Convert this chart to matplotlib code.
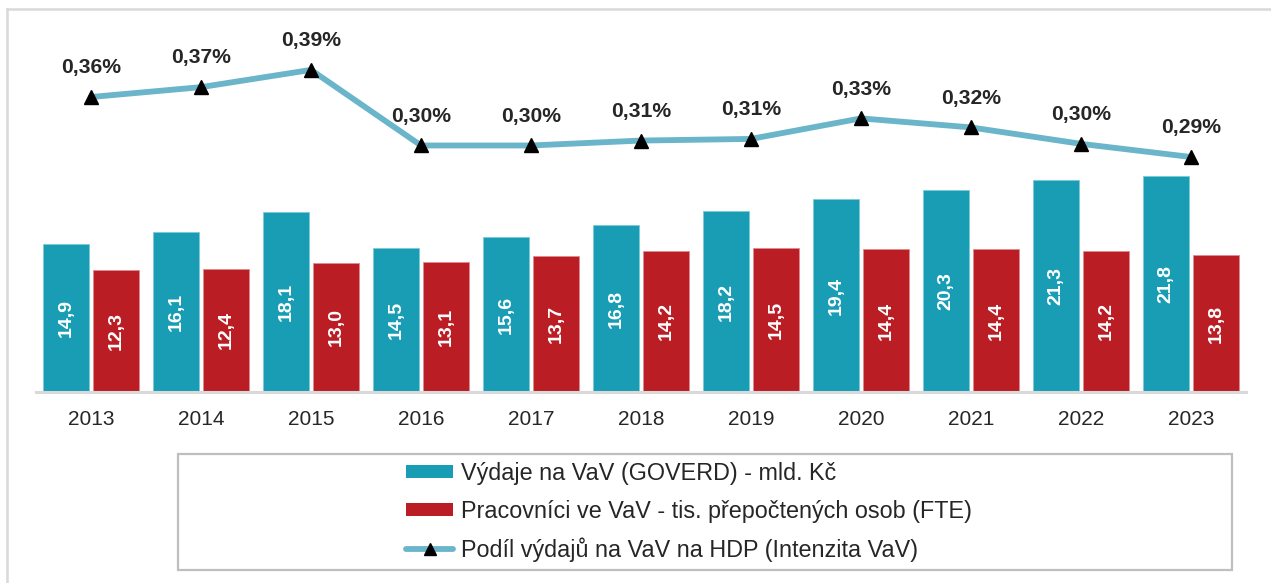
import matplotlib
matplotlib.use("Agg")
import matplotlib.pyplot as plt
from matplotlib.lines import Line2D
from matplotlib.patches import Rectangle, Patch

plt.rcParams['font.family'] = ['Liberation Sans', 'DejaVu Sans']

years = ['2013', '2014', '2015', '2016', '2017', '2018', '2019', '2020', '2021', '2022', '2023']
goverd = [14.9, 16.1, 18.1, 14.5, 15.6, 16.8, 18.2, 19.4, 20.3, 21.3, 21.8]
fte = [12.3, 12.4, 13.0, 13.1, 13.7, 14.2, 14.5, 14.4, 14.4, 14.2, 13.8]
intensity = [0.359, 0.371, 0.392, 0.300, 0.300, 0.306, 0.308, 0.333, 0.322, 0.302, 0.286]

lbl_goverd = 'Výdaje na VaV (GOVERD) - mld. Kč'
lbl_fte = 'Pracovníci ve VaV - tis. přepočtených osob (FTE)'
lbl_int = 'Podíl výdajů na VaV na HDP (Intenzita VaV)'

c_teal = '#189DB5'
c_red = '#BA1E24'
c_line = '#6BB5CA'
c_txt = '#262626'
c_grey = '#D9D9D9'

W, H = 1271, 583
fig = plt.figure(figsize=(W / 100, H / 100), dpi=100)

ax_left, ax_right = 36, 1246
ax_bottom, ax_top = 392, 30
ax = fig.add_axes([ax_left / W, (H - ax_bottom) / H, (ax_right - ax_left) / W, (ax_bottom - ax_top) / H])

x = list(range(len(years)))
bw = 0.418
off = 0.227
ax.bar([i - off for i in x], goverd, width=bw, color=c_teal, edgecolor='#7CCAD8', linewidth=0.6, zorder=2)
ax.bar([i + off for i in x], fte, width=bw, color=c_red, edgecolor='#E08A8E', linewidth=0.6, zorder=2)

for i in x:
    ax.text(i - off, goverd[i] / 2, f"{goverd[i]:.1f}".replace('.', ','), rotation=90,
            ha='center', va='center', color='white', fontsize=14, fontweight='bold')
    ax.text(i + off, fte[i] / 2, f"{fte[i]:.1f}".replace('.', ','), rotation=90,
            ha='center', va='center', color='white', fontsize=14, fontweight='bold')

ax.set_xlim(-0.5, len(years) - 0.5)
ax.set_ylim(0, (ax_bottom - ax_top) / 9.93)
ax.set_xticks(x)
ax.set_xticklabels(years, fontsize=15, color=c_txt)
ax.tick_params(axis='x', length=0, pad=13)
ax.set_yticks([])
for s in ['top', 'right', 'left']:
    ax.spines[s].set_visible(False)
ax.spines['bottom'].set_color(c_grey)
ax.spines['bottom'].set_linewidth(2.2)
ax.patch.set_alpha(0)

ax2 = ax.twinx()
ax2.set_ylim(0, (ax_bottom - ax_top) / 821.7)
ax2.plot(x, intensity, color=c_line, linewidth=4.2, marker='^', markersize=10,
         markerfacecolor='black', markeredgecolor='black', zorder=3, solid_capstyle='round')
for i in x:
    ax2.annotate(f"{intensity[i]:.2f}".replace('.', ',') + '%', (i, intensity[i]),
                 xytext=(0, 21), textcoords='offset points', ha='center', va='center',
                 fontsize=15.2, fontweight='bold', color=c_txt)
ax2.set_yticks([])
for s in ax2.spines.values():
    s.set_visible(False)

# outer frame lines
fig.add_artist(Line2D([7 / W, 1.0], [(H - 9) / H, (H - 9) / H], color=c_grey, linewidth=1.8))
fig.add_artist(Line2D([7 / W, 7 / W], [0, (H - 9) / H], color=c_grey, linewidth=1.8))

# legend box
lx0, lx1, ly0, ly1 = 178, 1232, 454, 570
fig.add_artist(Rectangle((lx0 / W, (H - ly1) / H), (lx1 - lx0) / W, (ly1 - ly0) / H,
                         transform=fig.transFigure, fill=False, edgecolor='#BFBFBF', linewidth=1.6))

handles = [Patch(facecolor=c_teal, edgecolor='none'),
           Patch(facecolor=c_red, edgecolor='none'),
           Line2D([], [], color=c_line, linewidth=4.2, marker='^', markersize=8,
                  markerfacecolor='black', markeredgecolor='black', solid_capstyle='round')]
leg = fig.legend(handles, [lbl_goverd, lbl_fte, lbl_int], loc='center',
                 bbox_to_anchor=(689 / W, (H - 512) / H), frameon=False, fontsize=16.8,
                 handlelength=2.0, handleheight=0.48, handletextpad=0.34, labelspacing=0.62,
                 borderpad=0)
for t in leg.get_texts():
    t.set_color(c_txt)

fig.savefig('out.png', dpi=100)
